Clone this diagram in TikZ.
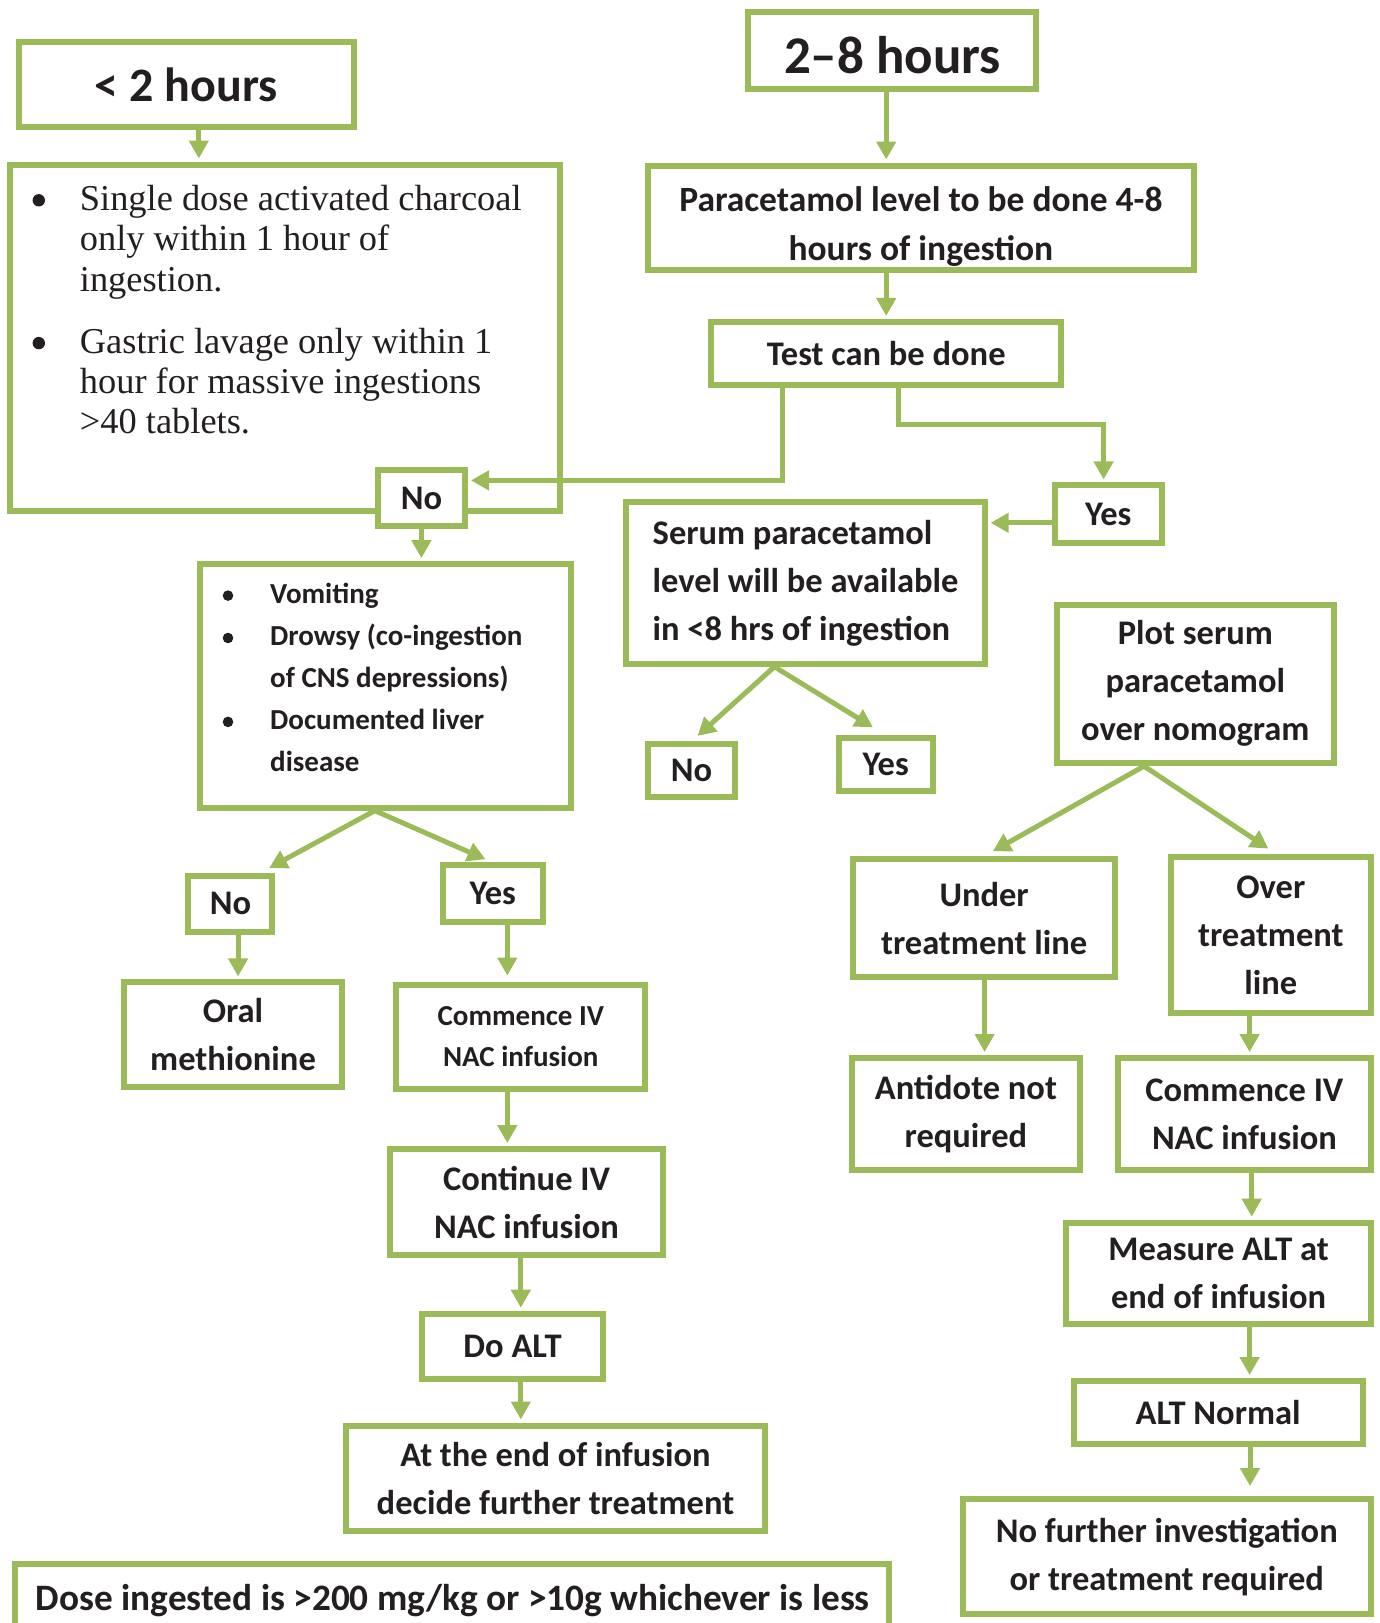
\documentclass[tikz,border=0pt]{standalone}
\usepackage{fontspec}
\setmainfont{Carlito}
\newfontfamily\bodyserif{Liberation Serif}
\usetikzlibrary{arrows.meta}
\definecolor{boxgreen}{HTML}{9BBB59}
\definecolor{ink}{HTML}{231F20}
% empty lead-in cell that leaves room for a list bullet
\newcommand\bulgap[1]{\makebox[#1]{}}

\begin{document}
\begin{tikzpicture}[x=1pt,y=-1pt,
  box/.style={draw=boxgreen, line width=6pt, fill=white, align=center,
    inner sep=0pt, text=ink, font=\fontsize{34.5}{48}\selectfont\bfseries},
  smallbox/.style={box, font=\fontsize{29}{41}\selectfont\bfseries},
  listtext/.style={anchor=base west, inner sep=0pt, text=ink},
  bulletdot/.style={fill=ink},
  flow/.style={draw=boxgreen, line width=5pt, shorten >=3pt,
    -{Triangle[width=19pt,length=18pt]}}]
\useasboundingbox (0,0) rectangle (1380,1623);

% ---- left branch: under two hours
\node[box, minimum width=335.7pt, minimum height=85.1pt,
  font=\fontsize{48}{56}\selectfont\bfseries] (lt2) at (186.4,84.9) {< 2 hours};
\node[box, minimum width=550pt, minimum height=346pt] (charc) at (285.2,337.5) {};
\node[listtext, font=\bodyserif\fontsize{36.4}{40.4}\selectfont] (charctxt) at (38.3,210.2)
  {\begin{tabular}[t]{@{}l@{}l@{}}
   \bulgap{41.4pt} & Single dose activated charcoal\\
                   & only within 1 hour of\\
                   & ingestion.\\[21.7pt]
   \bulgap{41.4pt} & Gastric lavage only within 1\\
                   & hour for massive ingestions\\
                   & >40 tablets.
   \end{tabular}};
\fill[bulletdot] (38.8,200.3) circle (6.2pt);
\fill[bulletdot] (38.8,343.1) circle (6.2pt);

% ---- right branch: two to eight hours
\node[box, minimum width=288pt, minimum height=77pt,
  font=\fontsize{53}{60}\selectfont\bfseries] (h28) at (892.4,50.2) {\rule{0pt}{46pt}2--8 hours};
\node[box, minimum width=545.8pt, minimum height=104.8pt, font=\fontsize{35.5}{49}\selectfont\bfseries]
  (level) at (920.9,217.9) {\rule{0pt}{43pt}Paracetamol level to be done 4-8\\hours of ingestion};
\node[box, minimum width=350.2pt, minimum height=63.3pt] (test) at (886.2,353.6) {Test can be done};

\node[box, minimum width=87.2pt, minimum height=56.1pt] (noA) at (421.4,498) {No};
\node[box, minimum width=106.8pt, minimum height=57.2pt] (yesA) at (1108.3,514) {Yes};
\node[box, minimum width=358.4pt, minimum height=161.7pt, align=left]
  (serum) at (805.5,582.9) {Serum paracetamol\\level will be available\\in <8 hrs of ingestion};

\node[box, minimum width=370.9pt, minimum height=243.5pt] (vomit) at (385.1,685.9) {};
\node[listtext, font=\fontsize{29}{41.9}\selectfont\bfseries] (vomittxt) at (227.8,603.6)
  {\begin{tabular}[t]{@{}l@{}l@{}}
   \bulgap{42.2pt} & Vomiting\\
   \bulgap{42.2pt} & Drowsy (co-ingestion\\
                   & of CNS depressions)\\
   \bulgap{42.2pt} & Documented liver\\
                   & disease
   \end{tabular}};
\fill[bulletdot] (228,595.6) circle (5.3pt);
\fill[bulletdot] (228,638) circle (5.3pt);
\fill[bulletdot] (228,721.9) circle (5.3pt);

\node[box, minimum width=87.2pt, minimum height=53pt] (noB) at (691.6,770.8) {No};
\node[box, minimum width=94.4pt, minimum height=53pt] (yesB) at (885.7,764.6) {Yes};
\node[box, minimum width=276.7pt, minimum height=158.6pt]
  (plot) at (1195.3,683.8) {Plot serum\\paracetamol\\over nomogram};

\node[box, minimum width=84.1pt, minimum height=56.1pt] (noC) at (230.4,903.8) {No};
\node[box, minimum width=99.6pt, minimum height=56.1pt] (yesC) at (492.8,893.5) {Yes};
\node[box, minimum width=262.1pt, minimum height=118.2pt] (under) at (984.1,918.3) {Under\\treatment line};
\node[box, minimum width=200pt, minimum height=155.5pt] (over) at (1270.8,934.9) {Over\\treatment\\line};

\node[box, minimum width=217.7pt, minimum height=104.8pt] (oral) at (233,1034.8) {Oral\\methionine};
\node[smallbox, minimum width=248.7pt, minimum height=104.7pt] (comL) at (520.8,1036.9) {Commence IV\\NAC infusion};
\node[box, minimum width=228pt, minimum height=112pt] (antid) at (965.9,1114) {Antidote not\\required};
\node[box, minimum width=252.8pt, minimum height=112pt] (comR) at (1244.4,1114) {Commence IV\\NAC infusion};

\node[box, minimum width=272.5pt, minimum height=105.8pt] (cont) at (526.5,1202) {Continue IV\\NAC infusion};
\node[box, minimum width=304.5pt, minimum height=101.7pt] (meas) at (1218.6,1273.5) {Measure ALT at\\end of infusion};
\node[box, minimum width=180.4pt, minimum height=65.4pt] (doalt) at (512.5,1346.4) {Do ALT};
\node[box, minimum width=289.1pt, minimum height=63.3pt] (altn) at (1218.1,1412.7) {ALT Normal};
\node[box, minimum width=419.5pt, minimum height=105.8pt] (atend) at (555.5,1478.4)
  {At the end of infusion\\decide further treatment};
\node[box, minimum width=408.1pt, minimum height=115.1pt] (nofur) at (1166.8,1556.6)
  {No further investigation\\or treatment required};

% ---- dose criterion along the bottom
\node[box, minimum width=874pt, minimum height=120pt, anchor=north] (dose) at (452.4,1561.1) {};
\node[anchor=base, inner sep=0pt, text=ink, font=\fontsize{37.3}{44}\selectfont\bfseries]
  (dosetxt) at (452.9,1610) {Dose ingested is >200 mg/kg or >10g whichever is less};

% ---- connectors
\draw[flow] (lt2.south -| 198.8,0) -- (charc.north -| 198.8,0);
\draw[flow] (h28.south -| 886.2,0) -- (level.north -| 886.2,0);
\draw[flow] (level.south -| 886.2,0) -- (test.north -| 886.2,0);
\draw[flow] (test.south -| 782.7,0) |- (noA.east |- 0,480.4);
\draw[flow] (test.south -| 898.6,0) |- (1103.6,424.5) -- (yesA.north -| 1103.6,0);
\draw[flow] (yesA.west |- 0,522.8) -- (serum.east |- 0,522.8);
\draw[flow] (noA.south) -- (vomit.north -| noA.south);

\draw[flow, shorten >=8pt] (serum.south -| 774.4,0) -- (noB.north);
\draw[flow, shorten >=15pt] (serum.south -| 774.4,0) -- (yesB.north);
\draw[flow, shorten >=10pt] (plot.south -| 1144,0) -- (under.north);
\draw[flow, shorten >=10pt] (plot.south -| 1144,0) -- ([xshift=6pt]over.north);
\draw[flow, shorten >=10pt] (vomit.south -| 374.8,0) -- ([xshift=30pt]noC.north);
\draw[flow, shorten >=8pt] (vomit.south -| 374.8,0) -- (yesC.north);

\draw[flow] (noC.south -| 238.1,0) -- (oral.north -| 238.1,0);
\draw[flow, shorten >=6pt] (yesC.south -| 507.3,0) -- (comL.north -| 507.3,0);
\draw[flow] (comL.south -| 507.3,0) -- (cont.north -| 507.3,0);
\draw[flow] (cont.south -| 520.8,0) -- (doalt.north -| 520.8,0);
\draw[flow] (doalt.south -| 520.8,0) -- (atend.north -| 520.8,0);
\draw[flow] (under.south -| 984.6,0) -- (antid.north -| 984.6,0);
\draw[flow] (over.south -| 1249.6,0) -- (comR.north -| 1249.6,0);
\draw[flow] (comR.south -| 1251.7,0) -- (meas.north -| 1251.7,0);
\draw[flow] (meas.south -| 1249.6,0) -- (altn.north -| 1249.6,0);
\draw[flow, shorten >=10pt] (altn.south -| 1250,0) -- (nofur.north -| 1250,0);
\end{tikzpicture}
\end{document}
